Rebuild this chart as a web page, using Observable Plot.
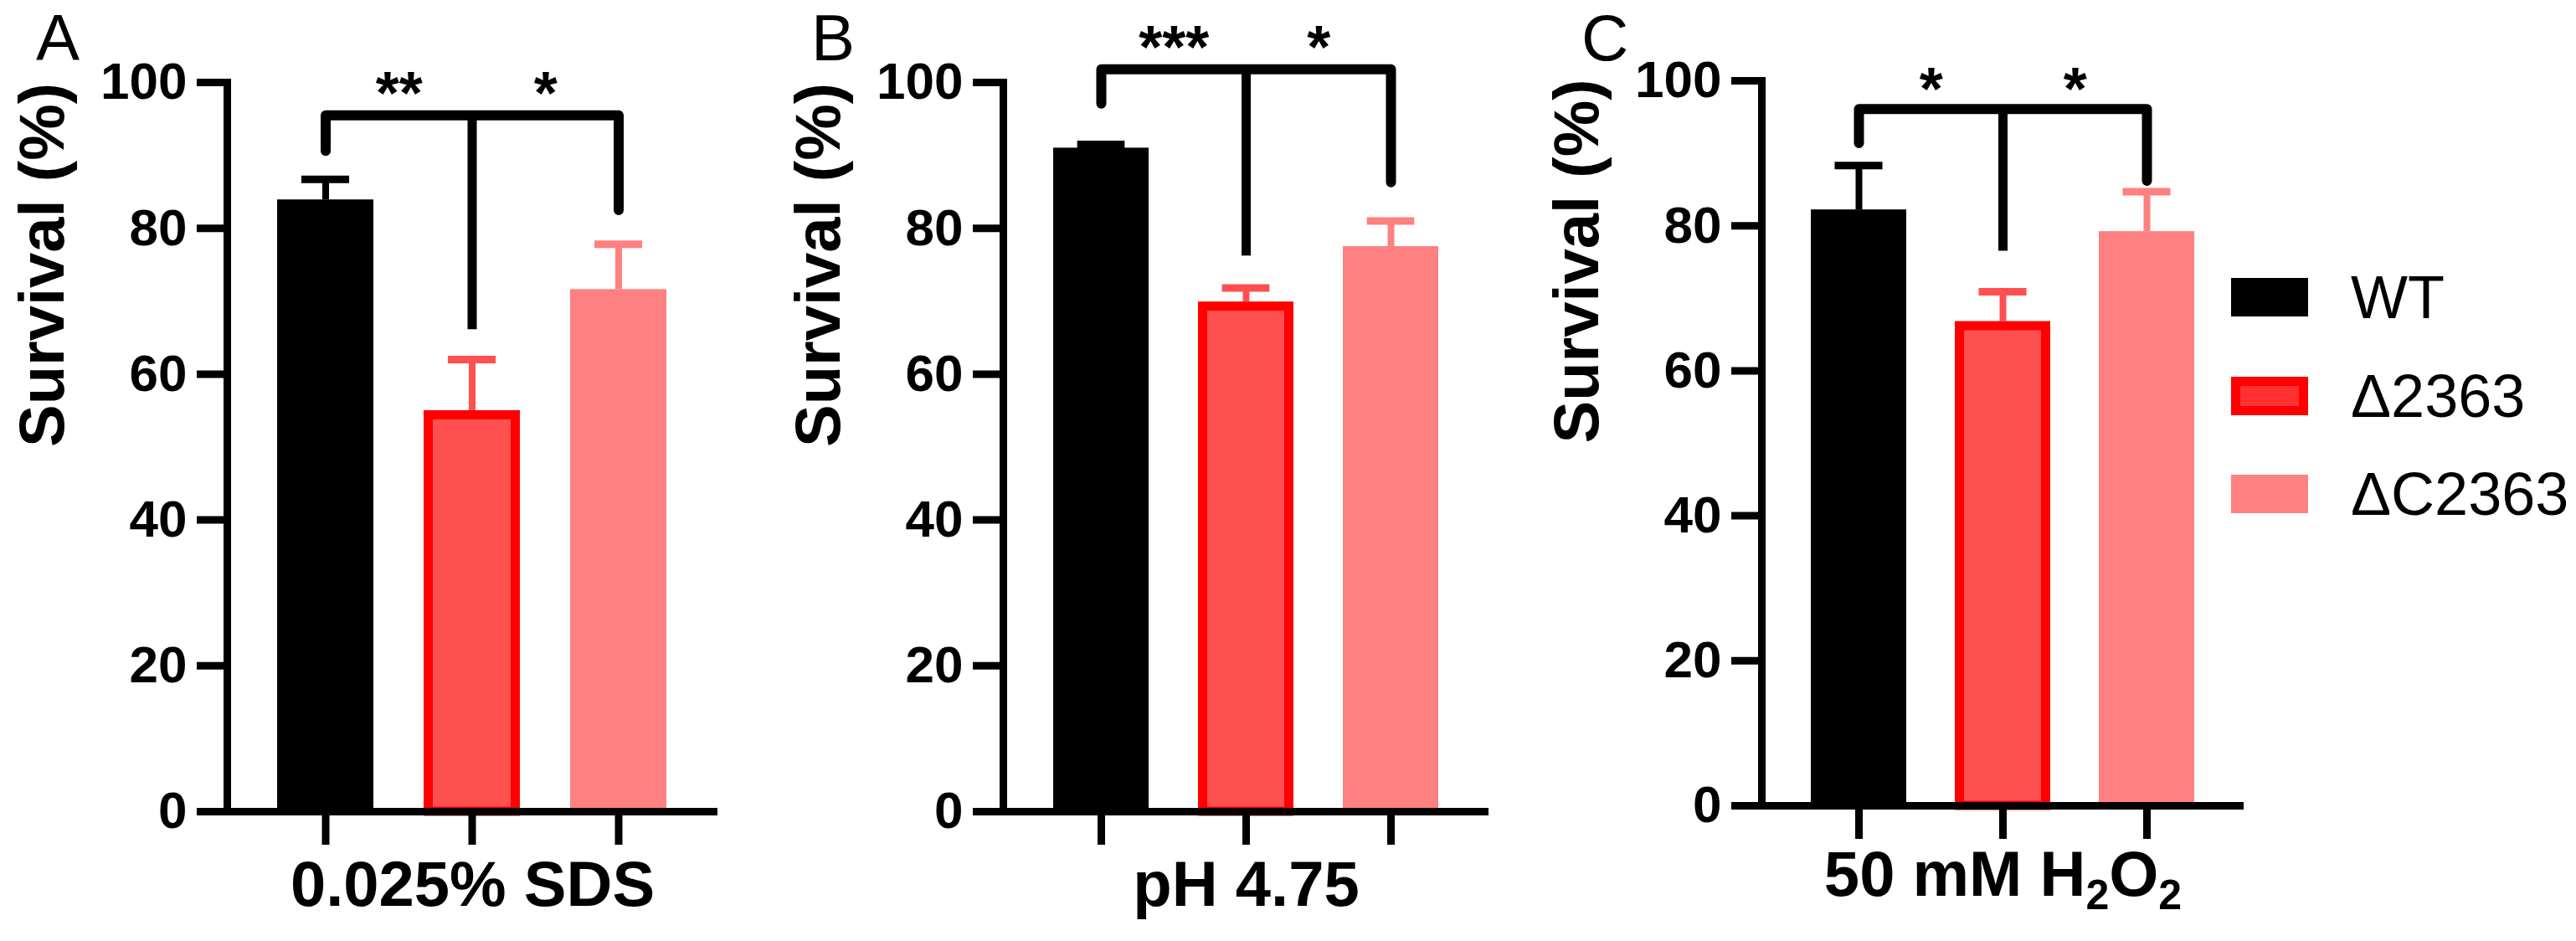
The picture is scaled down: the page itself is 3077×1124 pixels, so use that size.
<!DOCTYPE html>
<html>
<head>
<meta charset="utf-8">
<script src="https://cdn.jsdelivr.net/npm/d3@7"></script>
<script src="https://cdn.jsdelivr.net/npm/@observablehq/plot@0.6"></script>
<style>
  html, body { margin: 0; padding: 0; background: #fff; }
  #root { position: relative; width: 3077px; height: 1124px; overflow: hidden;
          font-family: "Liberation Sans", Arial, Helvetica, sans-serif; color: #000; }
  .panel { position: absolute; top: 0; }
  .letter { position: absolute; top: 0px; font-size: 78px; line-height: normal; font-weight: normal; }
  .lg-row { position: absolute; left: 2665px; height: 46px; display: flex; align-items: center; }
  .lg-sw { width: 92px; height: 46px; box-sizing: border-box; }
  .lg-tx { margin-left: 51px; font-size: 72px; line-height: 46px; white-space: nowrap; }
</style>
</head>
<body>
<div id="root"></div>
<script>
// ---------- data ----------
const groups = ["WT", "Δ2363", "ΔC2363"];
const fills = ["#000000", "#ff5050", "#ff8080"];
const panelLetters = ["A", "B", "C"];
const conditions = ["0.025% SDS", "pH 4.75", "50 mM H2O2"];
const yTicks = [0, 20, 40, 60, 80, 100];
const yTitle = "Survival (%)";

// means and upper error-bar ends (%)
const sdsMean  = [83.9, 55.0, 71.6];
const sdsErr   = [86.7, 62.0, 77.8];
const phMean   = [91.0, 69.9, 77.5];
const phErr    = [91.5, 71.8, 81.0];
const h2o2Mean = [82.2, 66.8, 79.2];
const h2o2Err  = [88.3, 70.9, 84.7];

// significance brackets: top level, leg ends (WT, Δ2363, ΔC2363), star labels, star level
const sdsBracketTop = 95.5;  const sdsLegEnds = [90.6, 66.1, 82.5];  const sdsStars = ["**", "*"];   const sdsStarY = 98.3;
const phBracketTop  = 101.8; const phLegEnds  = [97.1, 76.2, 86.3];  const phStars  = ["***", "*"];  const phStarY  = 104.6;
const h2o2BracketTop = 96.1; const h2o2LegEnds = [91.4, 76.5, 86.2]; const h2o2Stars = ["*", "*"];   const h2o2StarY = 98.7;

// ---------- layout ----------
const FONT = '"Liberation Sans", Arial, Helvetica, sans-serif';
const panelLeft = [0, 927, 1833];
const panelWidth = [900, 900, 880];
const panelMR = [43, 49, 33];
const panelMT = [98, 98, 96];
const panelMB = [155, 155, 162];
const xLabelDy = [112, 112, 107];
const letterLeft = [43, 969, 1889];
const ML = 271;

const root = document.getElementById("root");

function panel(i, mean, err, bracketTop, legEnds, stars, starY) {
  const W = panelWidth[i], MR = panelMR[i];
  const rows = groups.map((g, j) => ({group: g, mean: mean[j], err: err[j]}));
  const xopts = {domain: groups, paddingInner: 0.34, paddingOuter: 0.34};
  const xs = Plot.scale({x: {type: "band", ...xopts, range: [ML, W - MR]}});
  const step = xs.apply(groups[1]) - xs.apply(groups[0]);
  const bw = xs.bandwidth;
  const bracket = [
    {x: groups[0], y: legEnds[0]},
    {x: groups[0], y: bracketTop},
    {x: groups[2], y: bracketTop},
    {x: groups[2], y: legEnds[2]}
  ];
  const starRows = [{x: groups[0], s: stars[0]}, {x: groups[1], s: stars[1]}];

  const chart = Plot.plot({
    width: W, height: 1124,
    marginLeft: ML, marginRight: MR, marginTop: panelMT[i], marginBottom: panelMB[i],
    style: {fontFamily: FONT, background: "transparent", color: "black", overflow: "visible"},
    x: xopts,
    y: {domain: [0, 100]},
    color: {domain: groups, range: fills},
    marks: [
      Plot.ruleX(rows, {x: "group", y1: "mean", y2: "err", stroke: "group", strokeWidth: 8}),
      Plot.tickY(rows, {x: "group", y: "err", stroke: "group", strokeWidth: 9, insetLeft: bw / 4, insetRight: bw / 4}),
      Plot.barY(rows, {filter: d => d.group !== groups[1], x: "group", y: "mean", fill: "group"}),
      Plot.barY(rows, {filter: d => d.group === groups[1], x: "group", y: "mean", fill: "group",
                       stroke: "#ff0000", strokeWidth: 11, insetTop: 5.5, insetLeft: 5.5, insetRight: 5.5}),
      Plot.line(bracket, {x: "x", y: "y", stroke: "black", strokeWidth: 12, strokeLinejoin: "round"}),
      Plot.ruleX([{x: groups[1], y1: bracketTop, y2: legEnds[1]}], {x: "x", y1: "y1", y2: "y2", stroke: "black", strokeWidth: 11}),
      Plot.text(starRows, {x: "x", y: starY, text: "s", dx: step / 2, fontSize: 72, fontWeight: "bold", fill: "black"}),
      Plot.axisY(yTicks, {tickSize: 36, tickPadding: 12, strokeWidth: 9, fontSize: 62, fontWeight: "bold", label: null}),
      Plot.axisX({tickSize: 40, strokeWidth: 9, tickFormat: () => "", label: null}),
      Plot.frame({anchor: "left", strokeWidth: 9}),
      Plot.ruleY([0], {strokeWidth: 9}),
      Plot.text([conditions[i]], {frameAnchor: "bottom", dy: xLabelDy[i], fontSize: 76, fontWeight: "bold", fill: "black"}),
      Plot.text([yTitle], {frameAnchor: "left", rotate: -90, dx: -220, fontSize: 76, fontWeight: "bold", fill: "black"})
    ]
  });
  const wrap = document.createElement("div");
  wrap.className = "panel";
  wrap.style.left = panelLeft[i] + "px";
  wrap.appendChild(chart);
  root.appendChild(wrap);

  // subscript digits for chemical formula
  d3.select(chart).selectAll("text").each(function () {
    if (this.textContent === "50 mM H2O2") {
      const t = d3.select(this);
      t.text(null);
      t.append("tspan").text("50 mM H");
      t.append("tspan").attr("dy", "16px").attr("font-size", "50px").text("2");
      t.append("tspan").attr("dy", "-16px").text("O");
      t.append("tspan").attr("dy", "16px").attr("font-size", "50px").text("2");
    }
  });

  const letter = document.createElement("div");
  letter.className = "letter";
  letter.style.left = letterLeft[i] + "px";
  letter.textContent = panelLetters[i];
  root.appendChild(letter);
}

panel(0, sdsMean, sdsErr, sdsBracketTop, sdsLegEnds, sdsStars, sdsStarY);
panel(1, phMean, phErr, phBracketTop, phLegEnds, phStars, phStarY);
panel(2, h2o2Mean, h2o2Err, h2o2BracketTop, h2o2LegEnds, h2o2Stars, h2o2StarY);

// ---------- legend ----------
const legendTops = [332, 450, 567];
const legendSwatch = [
  {background: fills[0]},
  {background: "#ff3030", border: "11px solid #ff0000"},
  {background: fills[2]}
];
groups.forEach((g, j) => {
  const row = document.createElement("div");
  row.className = "lg-row";
  row.style.top = legendTops[j] + "px";
  const sw = document.createElement("div");
  sw.className = "lg-sw";
  Object.assign(sw.style, legendSwatch[j]);
  const tx = document.createElement("div");
  tx.className = "lg-tx";
  tx.textContent = g;
  row.appendChild(sw);
  row.appendChild(tx);
  root.appendChild(row);
});
</script>
</body>
</html>
